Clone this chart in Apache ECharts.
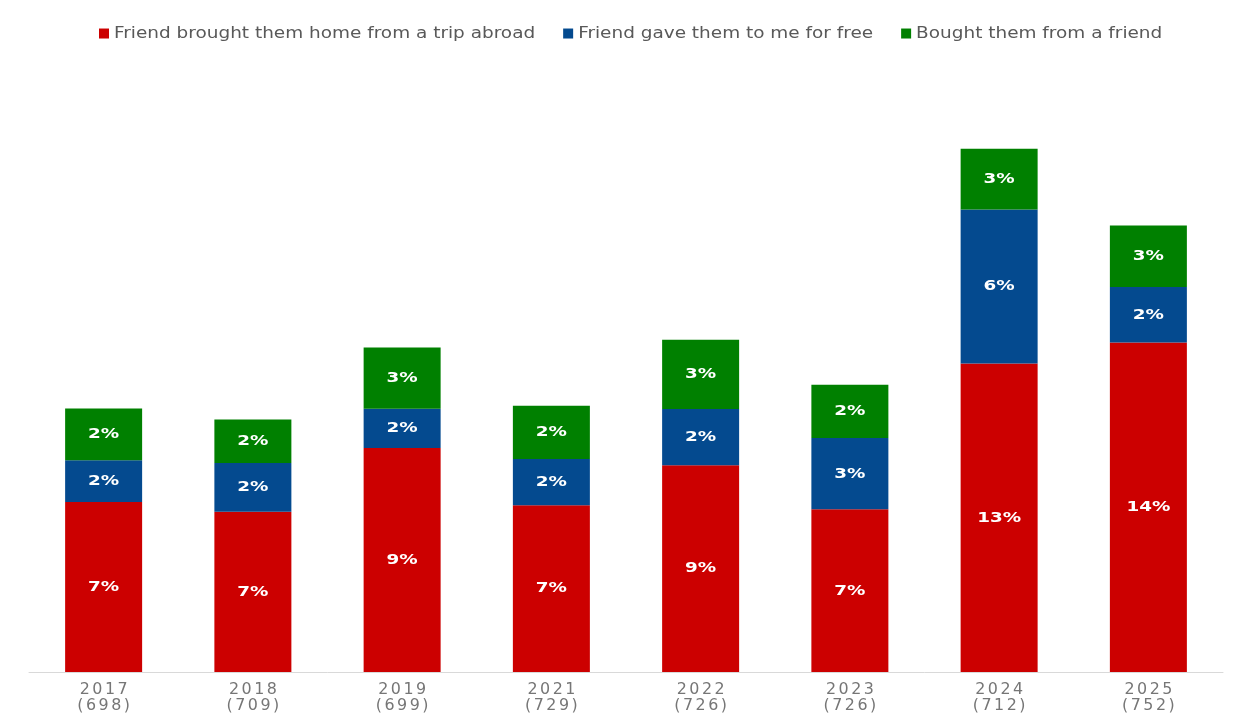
<!DOCTYPE html>
<html>
<head>
<meta charset="utf-8">
<script src="https://cdn.jsdelivr.net/npm/echarts@6/dist/echarts.min.js"></script>
<style>html,body{margin:0;padding:0;background:#fff;}#main{width:1245px;height:722px;}</style>
</head>
<body>
<div id="main"></div>
<script>
const categories = ['2017\n(698)', '2018\n(709)', '2019\n(699)', '2021\n(729)', '2022\n(726)', '2023\n(726)', '2024\n(712)', '2025\n(752)'];
const seriesNames = ['Friend brought them home from a trip abroad', 'Friend gave them to me for free', 'Bought them from a friend'];
const abroad = [7.05, 6.65, 9.3, 6.92, 8.58, 6.75, 12.8, 13.67];
const free = [1.74, 2.02, 1.62, 1.92, 2.33, 2.96, 6.39, 2.31];
const bought = [2.15, 1.81, 2.55, 2.21, 2.88, 2.21, 2.53, 2.55];
const colors = ['#CC0000', '#044A8F', '#008000'];

// Wide (Verdana-like) text look: horizontal stretch / letter spacing keyed by font size
const TEXT_FX = [
  { key: '15.5px', sx: 1.19, ls: 0 },
  { key: '14.8px', sx: 1.24, ls: 0 },
  { key: '15.9px', sx: 1.0, ls: 2.5 }
];
(function () {
  const proto = CanvasRenderingContext2D.prototype;
  const origFill = proto.fillText, origMeasure = proto.measureText;
  const fx = font => TEXT_FX.find(f => font && font.indexOf(f.key) >= 0);
  proto.fillText = function (text, x, y, maxW) {
    const f = fx(this.font);
    if (!f) return maxW === undefined ? origFill.call(this, text, x, y) : origFill.call(this, text, x, y, maxW);
    this.save();
    this.translate(x, y);
    this.scale(f.sx, 1);
    let dx = 0;
    if (f.ls && 'letterSpacing' in this) {
      this.letterSpacing = f.ls + 'px';
      if (this.textAlign === 'center') dx = f.ls / 2;
      else if (this.textAlign === 'right' || this.textAlign === 'end') dx = f.ls;
    }
    origFill.call(this, text, dx, 0);
    this.restore();
  };
  proto.measureText = function (text) {
    const m = origMeasure.call(this, text);
    const f = fx(this.font);
    if (!f) return m;
    return {
      width: m.width * f.sx + (f.ls ? f.ls * String(text).length : 0),
      actualBoundingBoxAscent: m.actualBoundingBoxAscent,
      actualBoundingBoxDescent: m.actualBoundingBoxDescent,
      actualBoundingBoxLeft: m.actualBoundingBoxLeft,
      actualBoundingBoxRight: m.actualBoundingBoxRight,
      fontBoundingBoxAscent: m.fontBoundingBoxAscent,
      fontBoundingBoxDescent: m.fontBoundingBoxDescent
    };
  };
})();

const FONT = 'DejaVu Sans';
const chart = echarts.init(document.getElementById('main'));
const labelCfg = {
  show: true,
  position: 'inside',
  color: '#ffffff',
  fontWeight: 'bold',
  fontSize: 14.8,
  fontFamily: FONT,
  formatter: p => Math.round(p.value) + '%'
};
const mk = (name, data, color) => ({
  name, type: 'bar', stack: 'total', data, barWidth: 77,
  itemStyle: { color }, label: labelCfg
});
chart.setOption({
  animation: false,
  color: colors,
  legend: {
    top: 19, left: 94,
    itemWidth: 10, itemHeight: 10, itemGap: 28,
    icon: 'rect',
    textStyle: { color: '#595959', fontSize: 15.5, fontFamily: FONT, lineHeight: 17 },
    data: seriesNames
  },
  grid: { left: 29, right: 22, top: 72, bottom: 50, containLabel: false },
  xAxis: {
    type: 'category', data: categories,
    axisLine: { lineStyle: { color: '#d9d9d9', width: 1 } },
    axisTick: { show: false },
    axisLabel: { color: '#767676', fontSize: 15.9, fontFamily: FONT, lineHeight: 16, margin: 10 }
  },
  yAxis: {
    type: 'value', min: 0, max: 24.9, show: false,
    splitLine: { show: false }
  },
  series: [
    mk(seriesNames[0], abroad, colors[0]),
    mk(seriesNames[1], free, colors[1]),
    mk(seriesNames[2], bought, colors[2])
  ]
});
</script>
</body>
</html>
